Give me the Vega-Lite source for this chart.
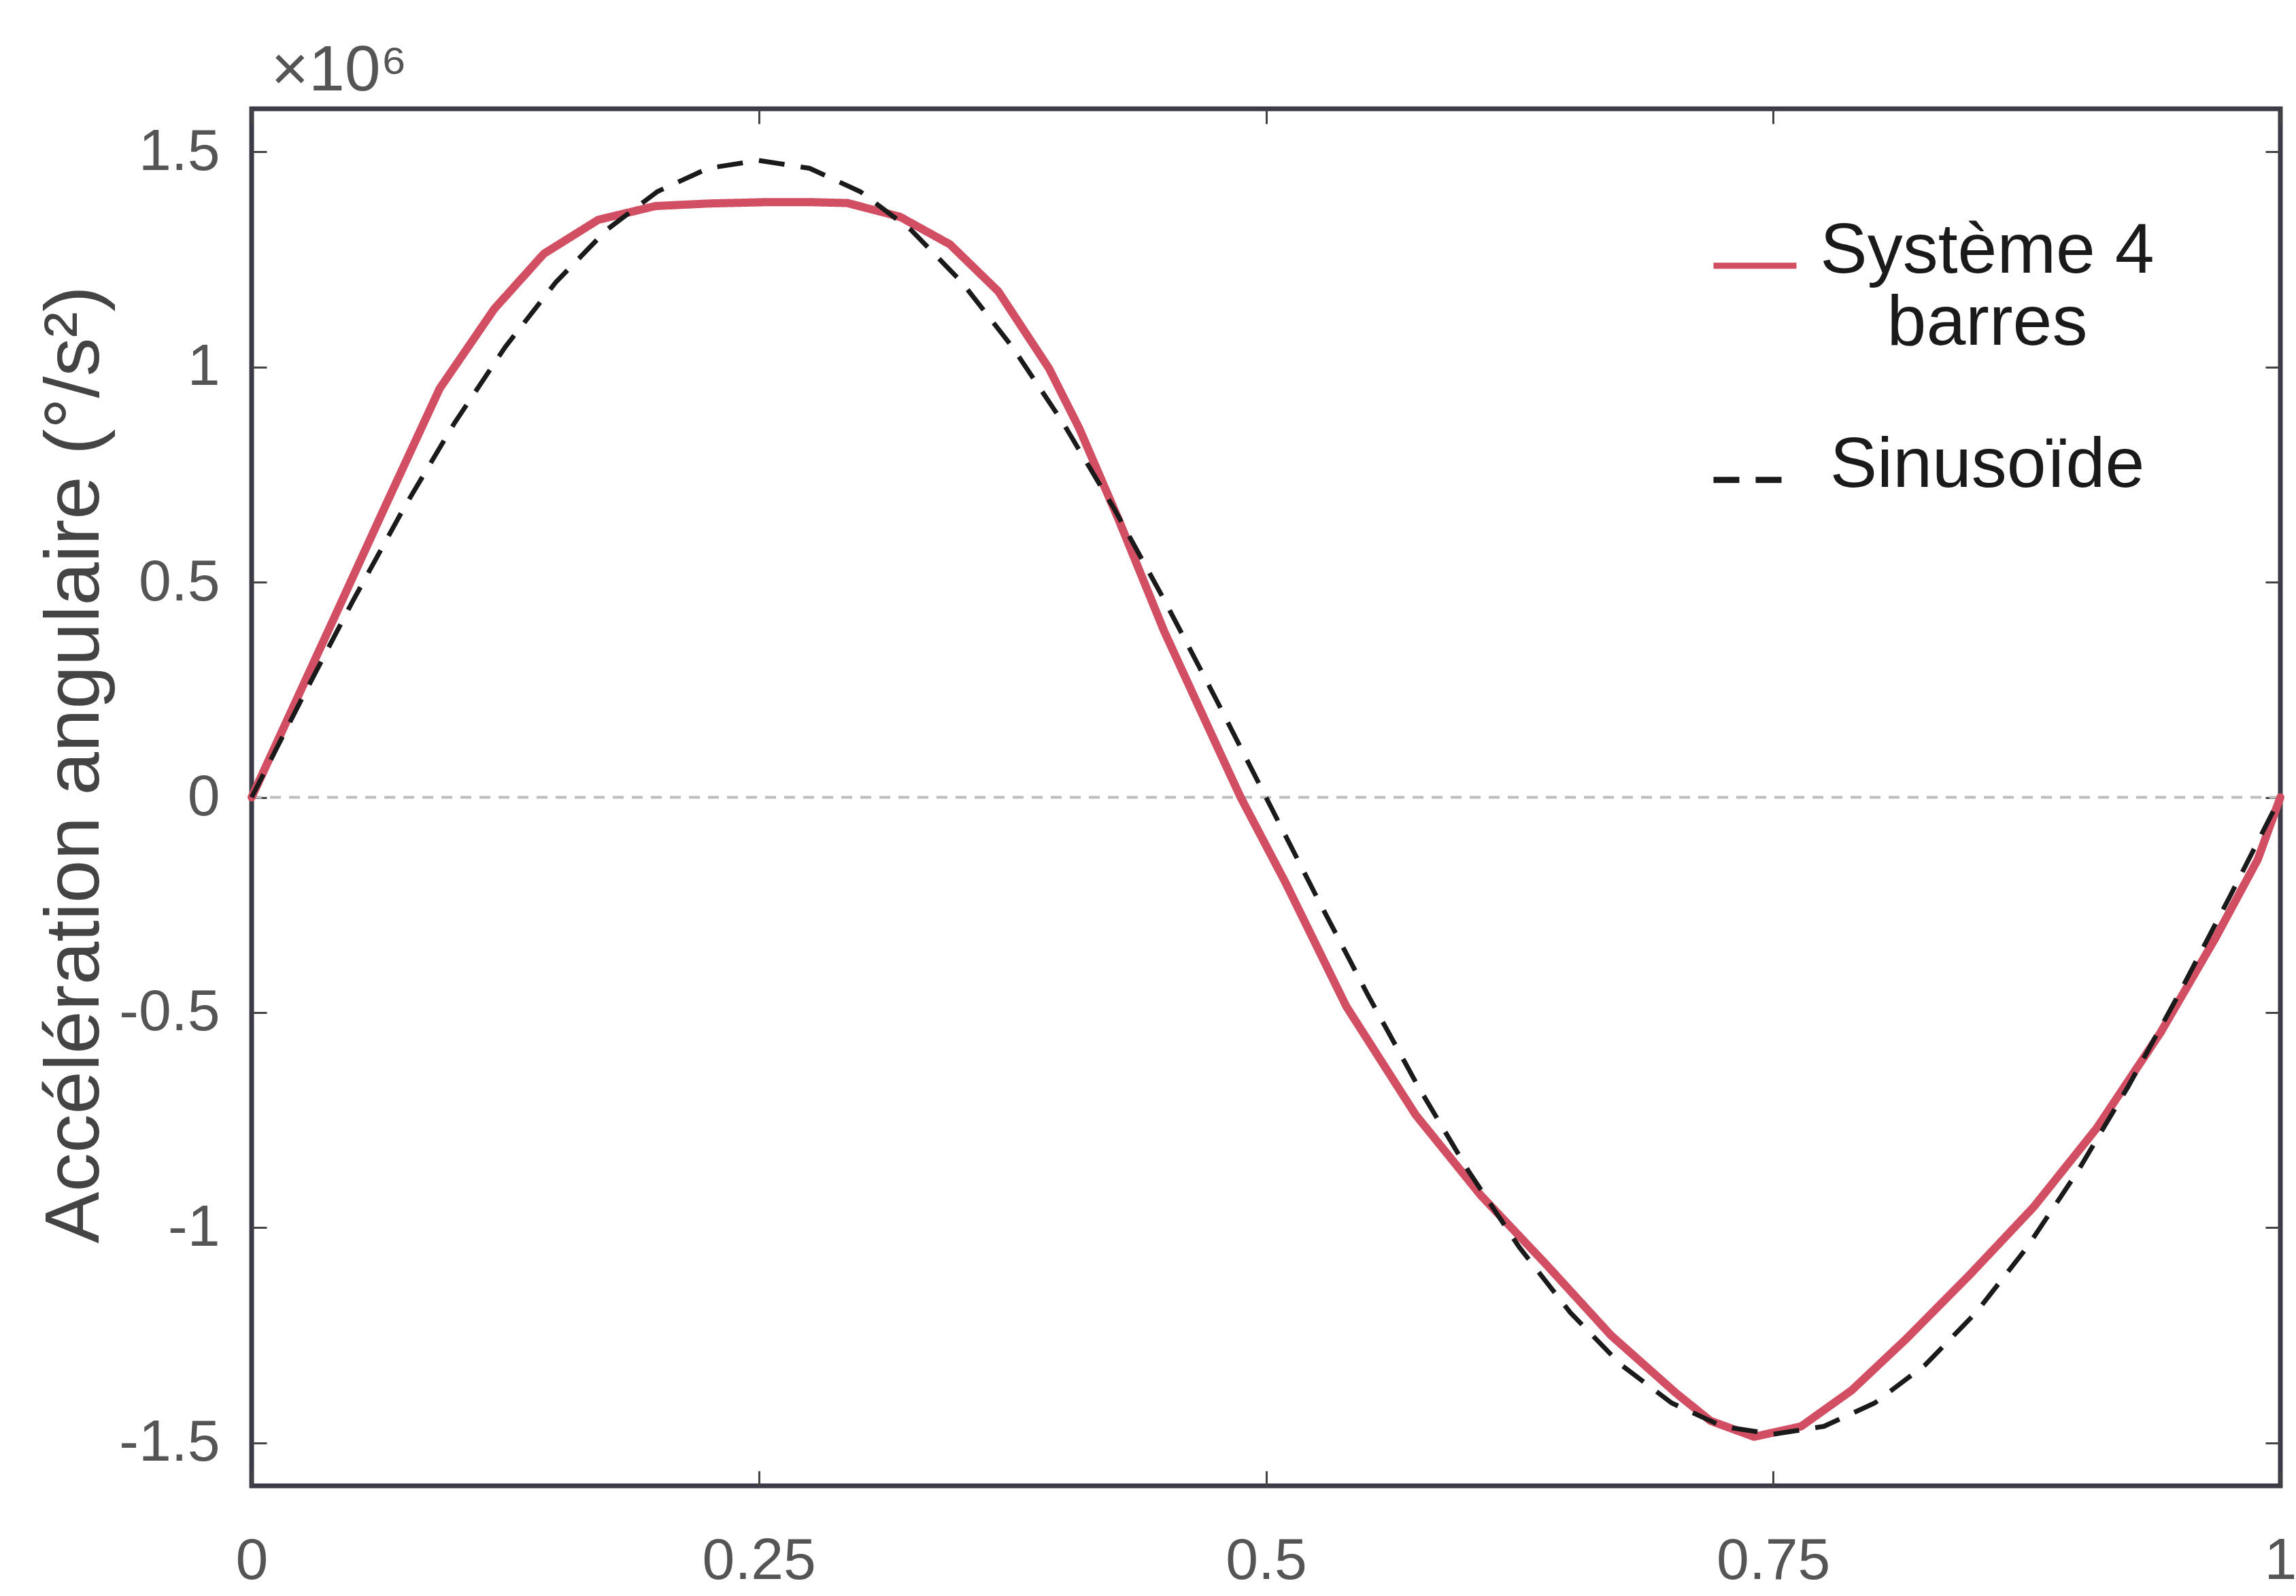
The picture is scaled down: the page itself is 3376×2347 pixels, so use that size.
{
  "$schema": "https://vega.github.io/schema/vega-lite/v6.json",
  "width": 2983,
  "height": 2025,
  "autosize": "none",
  "padding": {"left": 370, "top": 160, "right": 23, "bottom": 162},
  "background": "white",
  "config": {
    "view": {"stroke": "#3b3b47", "strokeWidth": 7},
    "font": "Liberation Sans",
    "axis": {
      "grid": false,
      "domain": false,
      "tickColor": "#444444",
      "tickWidth": 3,
      "tickSize": -22,
      "labelFont": "Liberation Sans",
      "titleFont": "Liberation Sans",
      "labelFontSize": 86,
      "labelColor": "#555555",
      "titleFontWeight": "normal"
    },
    "legend": {
      "orient": "none", "legendX": 2145, "legendY": 144, "title": null,
      "symbolType": "M-1,0.35L1,0.35", "symbolSize": 14884, "symbolStrokeWidth": 9,
      "labelFontSize": 104, "labelFont": "Liberation Sans", "labelColor": "#1a1a1a",
      "labelAlign": "center", "labelBaseline": "middle", "labelOffset": 276, "labelLimit": 2000,
      "rowPadding": 91
    }
  },
  "data": {
    "values": [
      {"series": "Système 4 barres", "t": 0, "acc": 0},
      {"series": "Système 4 barres", "t": 0.0397, "acc": 0.407},
      {"series": "Système 4 barres", "t": 0.066, "acc": 0.678},
      {"series": "Système 4 barres", "t": 0.0927, "acc": 0.95},
      {"series": "Système 4 barres", "t": 0.1196, "acc": 1.135},
      {"series": "Système 4 barres", "t": 0.144, "acc": 1.263},
      {"series": "Système 4 barres", "t": 0.1708, "acc": 1.342},
      {"series": "Système 4 barres", "t": 0.199, "acc": 1.374},
      {"series": "Système 4 barres", "t": 0.2258, "acc": 1.38},
      {"series": "Système 4 barres", "t": 0.2529, "acc": 1.383},
      {"series": "Système 4 barres", "t": 0.2763, "acc": 1.383},
      {"series": "Système 4 barres", "t": 0.2937, "acc": 1.381},
      {"series": "Système 4 barres", "t": 0.3196, "acc": 1.349},
      {"series": "Système 4 barres", "t": 0.3442, "acc": 1.285},
      {"series": "Système 4 barres", "t": 0.368, "acc": 1.176},
      {"series": "Système 4 barres", "t": 0.393, "acc": 0.997},
      {"series": "Système 4 barres", "t": 0.408, "acc": 0.857},
      {"series": "Système 4 barres", "t": 0.4273, "acc": 0.646},
      {"series": "Système 4 barres", "t": 0.4498, "acc": 0.386},
      {"series": "Système 4 barres", "t": 0.4722, "acc": 0.156},
      {"series": "Système 4 barres", "t": 0.4875, "acc": 0},
      {"series": "Système 4 barres", "t": 0.5097, "acc": -0.199},
      {"series": "Système 4 barres", "t": 0.5396, "acc": -0.486},
      {"series": "Système 4 barres", "t": 0.5738, "acc": -0.738},
      {"series": "Système 4 barres", "t": 0.6059, "acc": -0.925},
      {"series": "Système 4 barres", "t": 0.638, "acc": -1.085},
      {"series": "Système 4 barres", "t": 0.67, "acc": -1.25},
      {"series": "Système 4 barres", "t": 0.702, "acc": -1.384},
      {"series": "Système 4 barres", "t": 0.7191, "acc": -1.449},
      {"series": "Système 4 barres", "t": 0.7406, "acc": -1.486},
      {"series": "Système 4 barres", "t": 0.7637, "acc": -1.462},
      {"series": "Système 4 barres", "t": 0.7887, "acc": -1.378},
      {"series": "Système 4 barres", "t": 0.8157, "acc": -1.258},
      {"series": "Système 4 barres", "t": 0.847, "acc": -1.109},
      {"series": "Système 4 barres", "t": 0.8784, "acc": -0.952},
      {"series": "Système 4 barres", "t": 0.9096, "acc": -0.768},
      {"series": "Système 4 barres", "t": 0.9409, "acc": -0.547},
      {"series": "Système 4 barres", "t": 0.968, "acc": -0.327},
      {"series": "Système 4 barres", "t": 0.9889, "acc": -0.144},
      {"series": "Système 4 barres", "t": 1, "acc": 0},
      {"series": "Sinusoïde", "t": 0, "acc": 0},
      {"series": "Sinusoïde", "t": 0.025, "acc": 0.2315},
      {"series": "Sinusoïde", "t": 0.05, "acc": 0.4573},
      {"series": "Sinusoïde", "t": 0.075, "acc": 0.6719},
      {"series": "Sinusoïde", "t": 0.1, "acc": 0.8699},
      {"series": "Sinusoïde", "t": 0.125, "acc": 1.0465},
      {"series": "Sinusoïde", "t": 0.15, "acc": 1.1973},
      {"series": "Sinusoïde", "t": 0.175, "acc": 1.3187},
      {"series": "Sinusoïde", "t": 0.2, "acc": 1.4076},
      {"series": "Sinusoïde", "t": 0.225, "acc": 1.4618},
      {"series": "Sinusoïde", "t": 0.25, "acc": 1.48},
      {"series": "Sinusoïde", "t": 0.275, "acc": 1.4618},
      {"series": "Sinusoïde", "t": 0.3, "acc": 1.4076},
      {"series": "Sinusoïde", "t": 0.325, "acc": 1.3187},
      {"series": "Sinusoïde", "t": 0.35, "acc": 1.1973},
      {"series": "Sinusoïde", "t": 0.375, "acc": 1.0465},
      {"series": "Sinusoïde", "t": 0.4, "acc": 0.8699},
      {"series": "Sinusoïde", "t": 0.425, "acc": 0.6719},
      {"series": "Sinusoïde", "t": 0.45, "acc": 0.4573},
      {"series": "Sinusoïde", "t": 0.475, "acc": 0.2315},
      {"series": "Sinusoïde", "t": 0.5, "acc": 0},
      {"series": "Sinusoïde", "t": 0.525, "acc": -0.2315},
      {"series": "Sinusoïde", "t": 0.55, "acc": -0.4573},
      {"series": "Sinusoïde", "t": 0.575, "acc": -0.6719},
      {"series": "Sinusoïde", "t": 0.6, "acc": -0.8699},
      {"series": "Sinusoïde", "t": 0.625, "acc": -1.0465},
      {"series": "Sinusoïde", "t": 0.65, "acc": -1.1973},
      {"series": "Sinusoïde", "t": 0.675, "acc": -1.3187},
      {"series": "Sinusoïde", "t": 0.7, "acc": -1.4076},
      {"series": "Sinusoïde", "t": 0.725, "acc": -1.4618},
      {"series": "Sinusoïde", "t": 0.75, "acc": -1.48},
      {"series": "Sinusoïde", "t": 0.775, "acc": -1.4618},
      {"series": "Sinusoïde", "t": 0.8, "acc": -1.4076},
      {"series": "Sinusoïde", "t": 0.825, "acc": -1.3187},
      {"series": "Sinusoïde", "t": 0.85, "acc": -1.1973},
      {"series": "Sinusoïde", "t": 0.875, "acc": -1.0465},
      {"series": "Sinusoïde", "t": 0.9, "acc": -0.8699},
      {"series": "Sinusoïde", "t": 0.925, "acc": -0.6719},
      {"series": "Sinusoïde", "t": 0.95, "acc": -0.4573},
      {"series": "Sinusoïde", "t": 0.975, "acc": -0.2315},
      {"series": "Sinusoïde", "t": 1, "acc": 0}
    ]
  },
  "layer": [
    {
      "data": {"values": [{"level": 0}]},
      "mark": {"type": "rule", "color": "#bdbdbd", "strokeWidth": 4, "strokeDash": [16, 12]},
      "encoding": {
        "y": {"field": "level", "type": "quantitative", "scale": {"domain": [-1.6, 1.6], "nice": false}, "axis": null}
      }
    },
    {
      "transform": [{"filter": "datum.series == 'Système 4 barres'"}],
      "mark": {"type": "line", "strokeWidth": 12, "strokeJoin": "round", "strokeCap": "round"},
      "encoding": {
        "x": {
          "field": "t", "type": "quantitative",
          "scale": {"domain": [0, 1], "nice": false, "zero": false},
          "axis": {"orient": "bottom", "values": [0, 0.25, 0.5, 0.75, 1], "labelExpr": "'' + datum.value", "labelPadding": 90, "title": null, "labelFlush": false}
        },
        "y": {
          "field": "acc", "type": "quantitative",
          "scale": {"domain": [-1.6, 1.6], "nice": false},
          "axis": {"orient": "left", "values": [-1.5, -1, -0.5, 0, 0.5, 1, 1.5], "labelExpr": "'' + datum.value", "labelPadding": 69, "title": "Accélération angulaire (°/s²)", "titleFontSize": 114, "titleColor": "#444444", "titlePadding": 6, "titleY": 964}
        },
        "color": {
          "field": "series", "type": "nominal",
          "scale": {"domain": ["Système 4 barres", "Sinusoïde"], "range": ["#d24f63", "#1a1a1a"]},
          "legend": {"labelExpr": "datum.label == 'Système 4 barres' ? ['Système 4', 'barres'] : datum.label"}
        },
        "strokeDash": {
          "field": "series", "type": "nominal",
          "scale": {"domain": ["Système 4 barres", "Sinusoïde"], "range": [[1, 0], [38, 24]]},
          "legend": {"labelExpr": "datum.label == 'Système 4 barres' ? ['Système 4', 'barres'] : datum.label"}
        }
      }
    },
    {
      "transform": [{"filter": "datum.series == 'Sinusoïde'"}],
      "mark": {"type": "line", "strokeWidth": 7},
      "encoding": {
        "x": {
          "field": "t", "type": "quantitative",
          "scale": {"domain": [0, 1], "nice": false, "zero": false},
          "axis": {"orient": "top", "values": [0, 0.25, 0.5, 0.75, 1], "labels": false, "title": "×10⁶", "titleFontSize": 95, "titleColor": "#555555", "titleAnchor": "start", "titleAlign": "left", "titleBaseline": "alphabetic", "titleX": 28, "titleY": -28}
        },
        "y": {
          "field": "acc", "type": "quantitative",
          "scale": {"domain": [-1.6, 1.6], "nice": false},
          "axis": {"orient": "right", "values": [-1.5, -1, -0.5, 0, 0.5, 1, 1.5], "labels": false, "title": null}
        },
        "color": {
          "field": "series", "type": "nominal",
          "scale": {"domain": ["Système 4 barres", "Sinusoïde"], "range": ["#d24f63", "#1a1a1a"]},
          "legend": {"labelExpr": "datum.label == 'Système 4 barres' ? ['Système 4', 'barres'] : datum.label"}
        },
        "strokeDash": {
          "field": "series", "type": "nominal",
          "scale": {"domain": ["Système 4 barres", "Sinusoïde"], "range": [[1, 0], [38, 24]]},
          "legend": {"labelExpr": "datum.label == 'Système 4 barres' ? ['Système 4', 'barres'] : datum.label"}
        }
      }
    }
  ],
  "resolve": {"axis": {"x": "independent", "y": "independent"}}
}
